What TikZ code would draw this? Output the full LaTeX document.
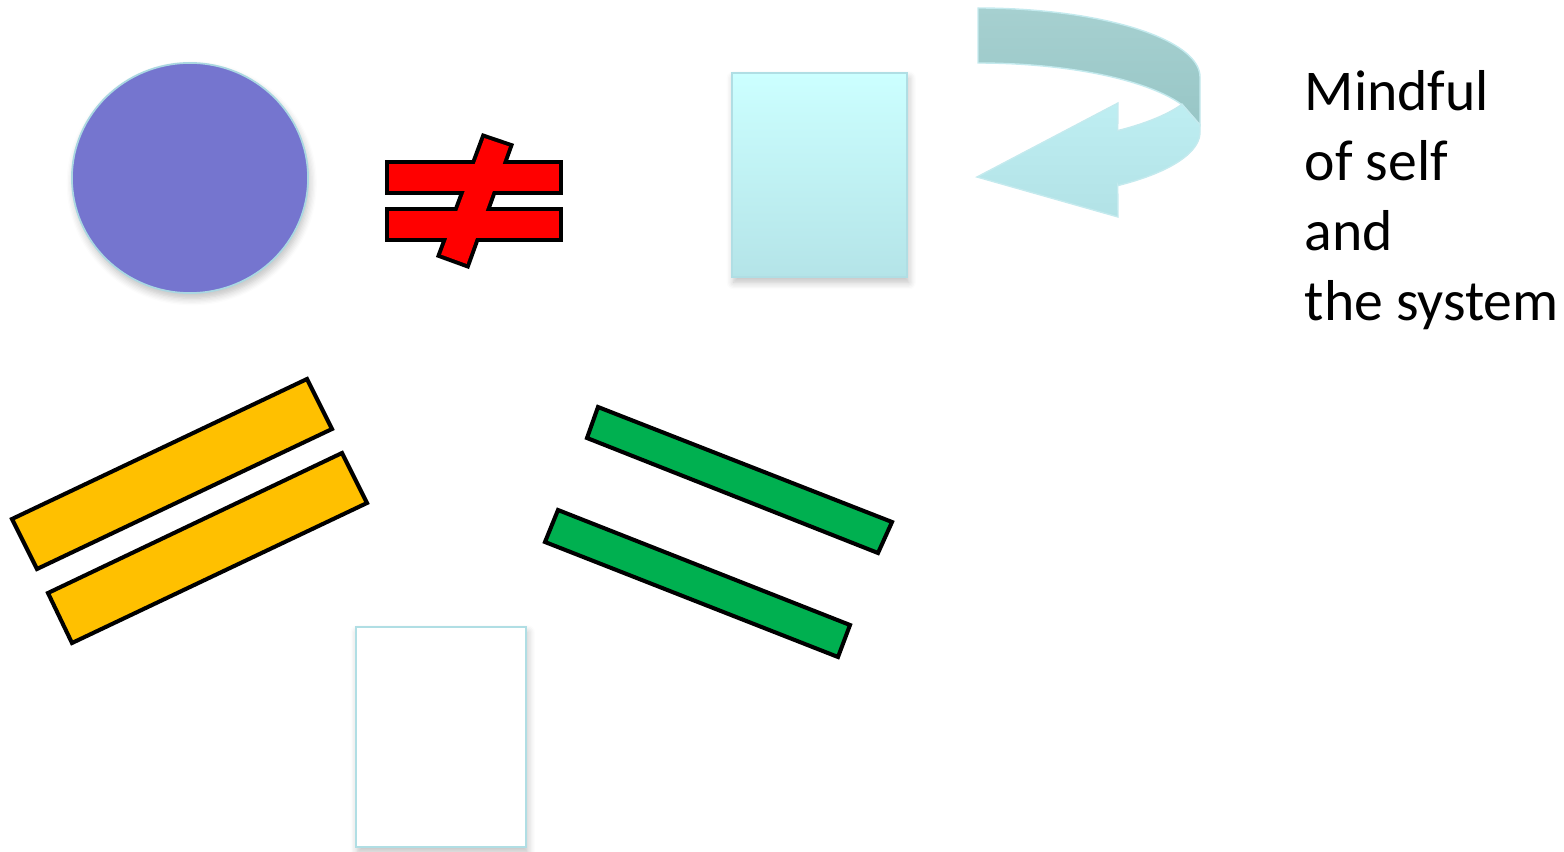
\documentclass[tikz,border=0pt]{standalone}
\usepackage{fontspec}
\setmainfont{Carlito}
\usepackage{tikz}
\usetikzlibrary{positioning, shapes.geometric, shadows.blur}

\definecolor{discblue}{RGB}{117,117,207}
\definecolor{discrim}{RGB}{170,215,225}
\definecolor{sysTop}{RGB}{204,255,255}
\definecolor{sysBot}{RGB}{180,228,232}
\definecolor{sysRim}{RGB}{176,222,228}
\definecolor{ringDarkTop}{RGB}{166,208,208}
\definecolor{ringDarkBot}{RGB}{152,198,198}
\definecolor{ringLightTop}{RGB}{190,238,242}
\definecolor{ringLightBot}{RGB}{178,226,230}
\definecolor{ringRim}{RGB}{196,234,238}
\definecolor{barYellow}{RGB}{255,192,0}
\definecolor{barGreen}{RGB}{0,176,80}

\begin{document}
\begin{tikzpicture}[
  x=0.01cm, y=-0.01cm,
  softshadow/.style={blur shadow={shadow xshift=0.5pt, shadow yshift=-1.5pt,
    shadow blur radius=2pt, shadow blur steps=6, shadow opacity=25}},
  disc/.style={ellipse, fill=discblue, draw=discrim, line width=0.5pt,
    minimum width=2.36cm, minimum height=2.30cm, inner sep=0pt, softshadow},
  sheet/.style={rectangle, draw=sysRim, line width=0.6pt, inner sep=0pt,
    softshadow},
  neqrim/.style={draw=black, line width=0.08cm, line join=miter},
  neqfill/.style={fill=red},
  bar/.style={draw=black, line width=1.15pt, line join=miter},
  ringrim/.style={draw=ringRim, line width=0.4pt},
  note/.style={align=left, anchor=north west, inner sep=0pt,
    font=\fontsize{16.4}{19.9}\selectfont},
]
  \useasboundingbox (0,0) rectangle (1564,852);

  \node[disc] (self) at (190,178) {};

  \draw[neqrim] (389,164) rectangle (559,191);
  \draw[neqrim] (389,211) rectangle (559,238);
  \draw[neqrim] (484.4,138.1) -- (508.9,146.4) -- (466.6,263.9) -- (441.1,254.6) -- cycle;
  \fill[neqfill] (389,164) rectangle (559,191);
  \fill[neqfill] (389,211) rectangle (559,238);
  \fill[neqfill] (484.4,138.1) -- (508.9,146.4) -- (466.6,263.9) -- (441.1,254.6) -- cycle;

  \node[sheet, top color=sysTop, bottom color=sysBot,
    minimum width=1.75cm, minimum height=2.04cm] (sys) at (819.5,175) {};

  \path[ringrim, top color=ringDarkTop, bottom color=ringDarkBot]
    plot[domain=-90:0, samples=40, variable=\t] ({978+222*cos(\t)}, {77+69*sin(\t)})
    -- (1200,125) -- (1182,104.8)
    -- plot[domain=-23.2:-90, samples=40, variable=\t] ({978+222*cos(\t)}, {132+69*sin(\t)})
    -- cycle;
  \path[ringrim, top color=ringLightTop, bottom color=ringLightBot]
    plot[domain=23.2:51, samples=30, variable=\t] ({978+222*cos(\t)}, {77+69*sin(\t)})
    -- (1118,103) -- (977,177) -- (1118,217) -- (1117.7,185.6)
    -- plot[domain=51:0, samples=30, variable=\t] ({978+222*cos(\t)}, {132+69*sin(\t)})
    -- (1200,125) -- cycle;

  \node[note] (mind) at (1304,70) {Mindful\\of self\\and\\the system};

  \filldraw[bar, fill=barYellow] (12,519) -- (307,379) -- (332,429) -- (37,569) -- cycle;
  \filldraw[bar, fill=barYellow] (48,593) -- (342,453) -- (367,503) -- (72,643) -- cycle;

  \filldraw[bar, fill=barGreen] (598,407) -- (892,522) -- (878,553) -- (587,438) -- cycle;
  \filldraw[bar, fill=barGreen] (558,510) -- (850,625) -- (838,657) -- (545,542) -- cycle;

  \node[sheet, fill=white, minimum width=1.70cm, minimum height=2.20cm]
    (blank) at (441,737) {};
\end{tikzpicture}
\end{document}
